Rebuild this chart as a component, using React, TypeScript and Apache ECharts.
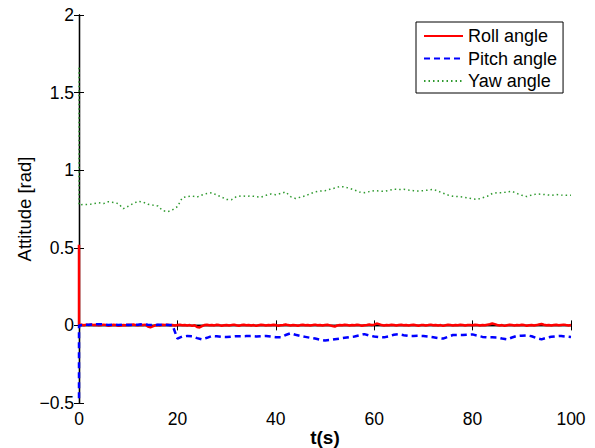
import React, { useEffect, useRef } from "react";
import * as echarts from "echarts";

// Time step of each sampled series (s)
const rollStep = 0.5;
const pitchStep = 1;
const yawStep = 1;

// Initial transient values at t = 0
const rollInit = 0.52;
const pitchInit = -0.47;
const yawInit = 1.66;

// Roll angle [rad], t = 0 .. 100 s every 0.5 s
const rollVals = [
  0.002, 0.004, 0.001, 0.005, 0.003, 0.006, 0.002, 0.004, 0.001, 0.003,
  0.005, 0.002, -0.002, 0.001, 0.004, 0.002, -0.003, 0.0, 0.003, 0.001,
  0.004, 0.002, 0.006, 0.003, 0.001, 0.004, 0.002, 0.005, -0.008, -0.012,
  -0.006, 0.001, 0.003, 0.0, 0.004, 0.002, 0.005, 0.001, 0.003, 0.0,
  0.002, 0.004, 0.001, 0.003, 0.0, 0.002, -0.003, 0.001, -0.01, -0.013,
  -0.005, 0.002, 0.004, 0.001, 0.003, 0.0, 0.004, 0.002, -0.002, 0.001,
  0.003, 0.0, 0.002, 0.005, 0.001, -0.002, 0.002, 0.004, 0.001, 0.003,
  0.0, 0.002, -0.003, 0.001, 0.004, 0.002, 0.0, 0.003, 0.001, 0.004,
  0.002, -0.002, 0.001, 0.003, 0.006, 0.002, 0.0, 0.003, 0.001, -0.002,
  0.002, 0.004, 0.001, 0.003, 0.0, 0.002, 0.005, 0.001, 0.003, 0.0,
  0.002, 0.004, 0.0, -0.004, -0.008, 0.0, 0.003, 0.001, 0.004, 0.002,
  0.0, 0.003, 0.001, 0.004, 0.002, -0.002, 0.001, 0.003, 0.006, 0.002,
  0.005, 0.012, 0.008, 0.002, 0.0, 0.003, 0.001, 0.004, 0.002, -0.001,
  0.002, 0.004, 0.001, 0.003, 0.0, 0.002, 0.004, 0.001, -0.002, 0.002,
  0.003, 0.0, 0.002, 0.005, 0.001, 0.003, 0.0, 0.002, -0.003, 0.001,
  0.004, 0.002, 0.0, 0.003, 0.001, 0.004, 0.002, -0.001, 0.002, 0.003,
  0.001, 0.004, 0.002, 0.0, 0.003, 0.001, 0.004, 0.007, 0.012, 0.008,
  0.003, 0.0, 0.002, -0.003, 0.001, 0.004, 0.002, 0.0, 0.003, 0.001,
  0.004, 0.002, -0.002, 0.001, 0.003, 0.0, 0.002, 0.006, 0.009, 0.004,
  0.001, 0.003, 0.0, 0.002, 0.004, 0.001, 0.003, 0.005, 0.002, 0.0,
  0.002,
];

// Pitch angle [rad], t = 0 .. 100 s every 1 s
const pitchVals = [
  0.0, 0.003, 0.004, 0.006, 0.008, 0.006, 0.003, 0.005, 0.002, 0.004,
  0.003, 0.005, 0.004, 0.008, 0.004, 0.002, 0.004, 0.005, 0.003, 0.002,
  -0.085, -0.072, -0.068, -0.07, -0.082, -0.09, -0.08, -0.068, -0.07, -0.074,
  -0.075, -0.072, -0.07, -0.07, -0.069, -0.068, -0.071, -0.069, -0.068, -0.072,
  -0.076, -0.077, -0.062, -0.051, -0.06, -0.068, -0.074, -0.08, -0.085, -0.092,
  -0.097, -0.094, -0.089, -0.085, -0.08, -0.075, -0.072, -0.064, -0.056, -0.065,
  -0.072, -0.075, -0.077, -0.07, -0.06, -0.057, -0.063, -0.068, -0.068, -0.067,
  -0.068, -0.072, -0.077, -0.082, -0.085, -0.073, -0.062, -0.062, -0.062, -0.06,
  -0.058, -0.066, -0.074, -0.077, -0.077, -0.078, -0.085, -0.09, -0.078, -0.068,
  -0.066, -0.064, -0.07, -0.082, -0.09, -0.08, -0.073, -0.07, -0.068, -0.072,
  -0.075,
];

// Yaw angle [rad], t = 0 .. 100 s every 1 s
const yawVals = [
  0.775, 0.78, 0.778, 0.785, 0.79, 0.785, 0.797, 0.792, 0.785, 0.752,
  0.768, 0.785, 0.8, 0.795, 0.78, 0.775, 0.77, 0.74, 0.732, 0.745,
  0.765, 0.823, 0.83, 0.834, 0.827, 0.84, 0.85, 0.855, 0.84, 0.827,
  0.812, 0.81, 0.83, 0.835, 0.832, 0.834, 0.83, 0.826, 0.838, 0.847,
  0.842, 0.85, 0.86, 0.83, 0.818, 0.826, 0.835, 0.848, 0.86, 0.866,
  0.868, 0.877, 0.885, 0.895, 0.892, 0.883, 0.872, 0.86, 0.855, 0.862,
  0.868, 0.866, 0.864, 0.87, 0.878, 0.876, 0.877, 0.872, 0.868, 0.866,
  0.868, 0.872, 0.877, 0.865, 0.852, 0.84, 0.832, 0.83, 0.827, 0.822,
  0.815, 0.812, 0.822, 0.832, 0.85, 0.856, 0.855, 0.86, 0.864, 0.85,
  0.838, 0.83, 0.84, 0.847, 0.845, 0.842, 0.838, 0.843, 0.84, 0.838,
  0.838,
];

const seriesNames = ["Roll angle", "Pitch angle", "Yaw angle"];
const xTicks = { min: 0, max: 100, interval: 20 };
const yTicks = { min: -0.5, max: 2, interval: 0.5 };

const FONT = "'Liberation Sans', Arial, Helvetica, sans-serif";

function build(init: number, vals: number[], step: number) {
  const out: number[][] = [[0, init]];
  vals.forEach((v, i) => out.push([i * step, v]));
  return out;
}

export default function App() {
  const ref = useRef<HTMLDivElement>(null);
  useEffect(() => {
    document.body.style.margin = "0";
    if (!ref.current) return;
    const chart = echarts.init(ref.current, undefined, { renderer: "svg", width: 595, height: 448 });
    const axisLine = { show: true, lineStyle: { color: "#000", width: 1.3 } };
    const axisTick = { show: true, inside: true, length: 5, lineStyle: { color: "#000", width: 1 } };
    const label = { fontSize: 17.5, color: "#000", fontFamily: FONT };
    chart.setOption({
      animation: false,
      backgroundColor: "#fff",
      grid: { left: 79, right: 24, top: 15, bottom: 45, containLabel: false, outerBoundsMode: "none" },
      legend: {
        orient: "vertical",
        left: 416,
        top: 22,
        padding: [5, 6, 3, 7],
        itemWidth: 39,
        itemHeight: 14,
        itemGap: 4.5,
        borderColor: "#000",
        borderWidth: 1,
        backgroundColor: "#fff",
        itemStyle: { opacity: 0, color: "transparent", borderWidth: 0 },
        textStyle: { fontSize: 18, color: "#000", fontFamily: FONT },
        data: seriesNames,
      },
      xAxis: [
        {
          type: "value",
          ...xTicks,
          position: "bottom",
          axisLine,
          axisTick,
          splitLine: { show: false },
          axisLabel: { ...label, margin: 7 },
          name: "t(s)",
          nameLocation: "middle",
          nameGap: 34,
          nameMoveOverlap: false,
          nameTextStyle: { fontSize: 19, fontWeight: "bold", color: "#000", fontFamily: FONT, verticalAlign: "middle" },
        },
        {
          type: "value",
          ...xTicks,
          position: "top",
          axisLine,
          axisTick,
          splitLine: { show: false },
          axisLabel: { show: false },
        },
      ],
      yAxis: [
        {
          type: "value",
          ...yTicks,
          position: "left",
          axisLine,
          axisTick,
          splitLine: { show: false },
          axisLabel: {
            ...label,
            margin: 5,
            formatter: (v: number) => (v < 0 ? "\u2212" + Math.abs(v) : String(v)),
          },
          name: "Attitude [rad]",
          nameLocation: "middle",
          nameGap: 55,
          nameMoveOverlap: false,
          nameTextStyle: { fontSize: 18.5, color: "#000", fontFamily: FONT, verticalAlign: "middle" },
        },
        {
          type: "value",
          ...yTicks,
          position: "right",
          axisLine,
          axisTick,
          splitLine: { show: false },
          axisLabel: { show: false },
        },
      ],
      series: [
        {
          name: seriesNames[0],
          type: "line",
          data: build(rollInit, rollVals, rollStep),
          showSymbol: false,
          symbol: "none",
          clip: false,
          lineStyle: { color: "#ff0000", width: 2.5 },
          itemStyle: { color: "#ff0000" },
        },
        {
          name: seriesNames[1],
          type: "line",
          data: build(pitchInit, pitchVals, pitchStep),
          showSymbol: false,
          symbol: "none",
          clip: false,
          lineStyle: { color: "#0000ff", width: 2.5, type: [6, 4] },
          itemStyle: { color: "#0000ff" },
        },
        {
          name: seriesNames[2],
          type: "line",
          data: build(yawInit, yawVals, yawStep),
          showSymbol: false,
          symbol: "none",
          clip: false,
          lineStyle: { color: "#2f9a2f", width: 1.5, type: [1.5, 3] },
          itemStyle: { color: "#2f9a2f" },
        },
      ],
    });
    return () => chart.dispose();
  }, []);
  return <div ref={ref} style={{ width: 595, height: 448 }} />;
}
